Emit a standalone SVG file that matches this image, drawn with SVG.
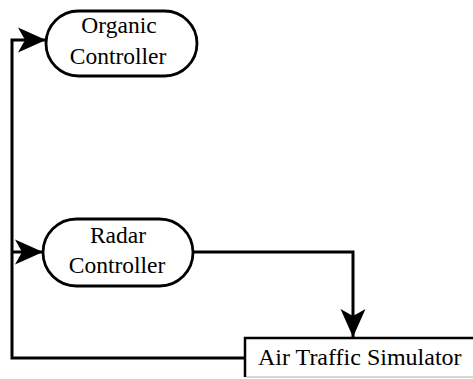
<svg xmlns="http://www.w3.org/2000/svg" width="473" height="379" viewBox="0 0 473 379">
  <style>
    .bg { fill: #ffffff; }
    .pill { fill: #ffffff; stroke: #000000; stroke-width: 2.8; }
    .box-edge { fill: none; stroke: #000000; stroke-width: 2.5; }
    .box-base { fill: none; stroke: #b0b0b0; stroke-width: 1.2; }
    .wire { fill: none; stroke: #000000; stroke-width: 3; marker-end: url(#arrow); }
    text { font-family: "Liberation Serif", "Times New Roman", serif; font-size: 23.5px; fill: #000000; text-anchor: middle; }
    .left { text-anchor: start; font-size: 24px; }
  </style>
  <defs>
    <marker id="arrow" markerUnits="userSpaceOnUse" markerWidth="30" markerHeight="28" viewBox="0 -14 30 28" refX="28" refY="0" orient="auto">
      <path d="M28,0 L0,-12.5 L7,0 L0,12.5 Z" fill="#000000"/>
    </marker>
  </defs>

  <rect class="bg" x="0" y="0" width="473" height="379"/>

  <!-- connectors -->
  <g id="connectors">
    <!-- feedback bus from the simulator up to both controllers -->
    <path class="wire" d="M245,358 H12 V40 H46"/>
    <path class="wire" d="M12,252 H43"/>
    <!-- radar controller output into the simulator -->
    <path class="wire" d="M193,252 H353 V337"/>
  </g>

  <g id="organic-controller">
    <rect class="pill" x="46" y="11" width="151" height="65" rx="32.5" ry="32.5"/>
    <text x="119" y="33">Organic</text>
    <text x="118" y="64">Controller</text>
  </g>

  <g id="radar-controller">
    <rect class="pill" x="43" y="219" width="150" height="67" rx="33.5" ry="33.5"/>
    <text x="118" y="243">Radar</text>
    <text x="117" y="273">Controller</text>
  </g>

  <g id="air-traffic-simulator">
    <path class="box-base" d="M246,377 H473"/>
    <path class="box-edge" d="M245,377 V338 H473"/>
    <text class="left" x="258" y="365">Air Traffic Simulator</text>
  </g>
</svg>
